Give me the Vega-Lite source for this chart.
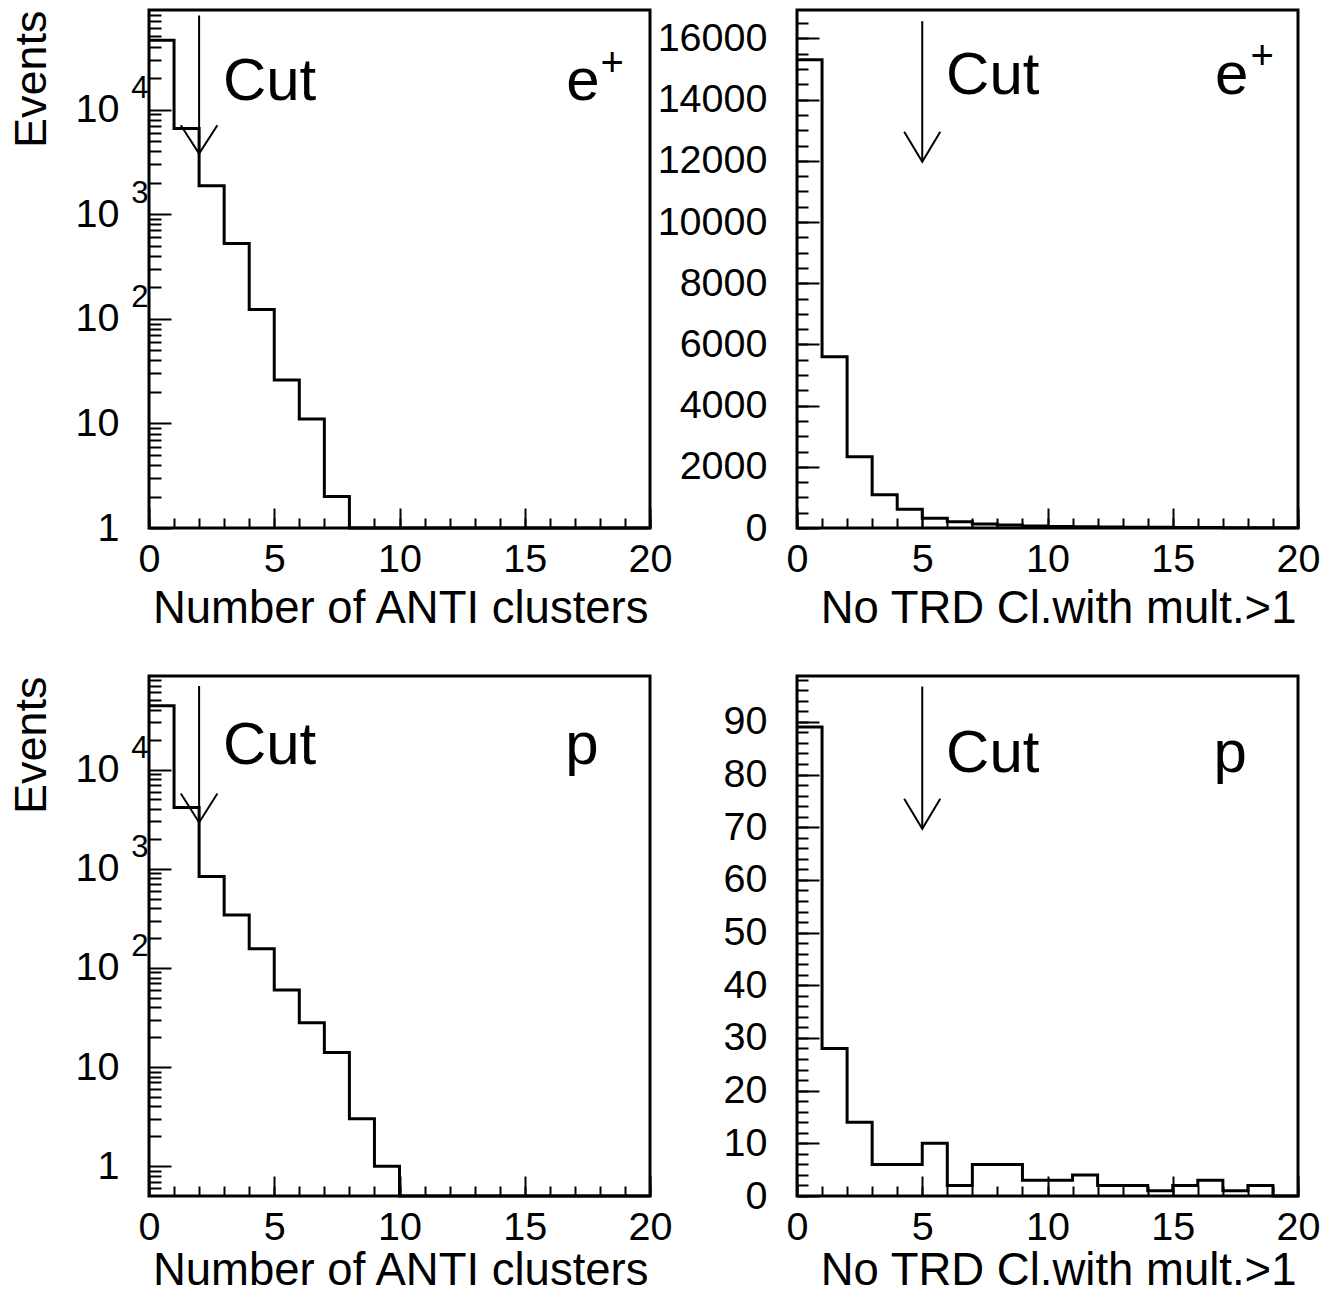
{
  "$schema": "https://vega.github.io/schema/vega-lite/v6.json",
  "background": "white",
  "autosize": {"type": "pad"},
  "padding": {"left": 7, "top": 8, "right": 10, "bottom": 4},
  "datasets": {
    "tl": [
      {"edge": 0, "count": 46000}, {"edge": 1, "count": 6600}, {"edge": 2, "count": 1870}, {"edge": 3, "count": 525},
      {"edge": 4, "count": 123}, {"edge": 5, "count": 26}, {"edge": 6, "count": 11}, {"edge": 7, "count": 2},
      {"edge": 8, "count": 0}, {"edge": 9, "count": 0}, {"edge": 10, "count": 0}, {"edge": 11, "count": 0},
      {"edge": 12, "count": 0}, {"edge": 13, "count": 0}, {"edge": 14, "count": 0}, {"edge": 15, "count": 0},
      {"edge": 16, "count": 0}, {"edge": 17, "count": 0}, {"edge": 18, "count": 0}, {"edge": 19, "count": 0},
      {"edge": 20, "count": 0}
    ],
    "tr": [
      {"edge": 0, "count": 15300}, {"edge": 1, "count": 5600}, {"edge": 2, "count": 2330}, {"edge": 3, "count": 1085},
      {"edge": 4, "count": 610}, {"edge": 5, "count": 315}, {"edge": 6, "count": 205}, {"edge": 7, "count": 128},
      {"edge": 8, "count": 95}, {"edge": 9, "count": 65}, {"edge": 10, "count": 50}, {"edge": 11, "count": 40},
      {"edge": 12, "count": 32}, {"edge": 13, "count": 26}, {"edge": 14, "count": 21}, {"edge": 15, "count": 17},
      {"edge": 16, "count": 14}, {"edge": 17, "count": 11}, {"edge": 18, "count": 9}, {"edge": 19, "count": 7},
      {"edge": 20, "count": 7}
    ],
    "bl": [
      {"edge": 0, "count": 44100}, {"edge": 1, "count": 4150}, {"edge": 2, "count": 836}, {"edge": 3, "count": 341},
      {"edge": 4, "count": 156}, {"edge": 5, "count": 60}, {"edge": 6, "count": 28}, {"edge": 7, "count": 14},
      {"edge": 8, "count": 3}, {"edge": 9, "count": 1}, {"edge": 10, "count": 0}, {"edge": 11, "count": 0},
      {"edge": 12, "count": 0}, {"edge": 13, "count": 0}, {"edge": 14, "count": 0}, {"edge": 15, "count": 0},
      {"edge": 16, "count": 0}, {"edge": 17, "count": 0}, {"edge": 18, "count": 0}, {"edge": 19, "count": 0},
      {"edge": 20, "count": 0}
    ],
    "br": [
      {"edge": 0, "count": 89}, {"edge": 1, "count": 28}, {"edge": 2, "count": 14}, {"edge": 3, "count": 6},
      {"edge": 4, "count": 6}, {"edge": 5, "count": 10}, {"edge": 6, "count": 2}, {"edge": 7, "count": 6},
      {"edge": 8, "count": 6}, {"edge": 9, "count": 3}, {"edge": 10, "count": 3}, {"edge": 11, "count": 4},
      {"edge": 12, "count": 2}, {"edge": 13, "count": 2}, {"edge": 14, "count": 1}, {"edge": 15, "count": 2},
      {"edge": 16, "count": 3}, {"edge": 17, "count": 1}, {"edge": 18, "count": 2}, {"edge": 19, "count": 0},
      {"edge": 20, "count": 0}
    ]
  },
  "columns": 2,
  "spacing": {"row": 148, "column": 147},
  "bounds": "flush",
  "concat": [
    {
      "width": 501, "height": 518,
      "layer": [
        {
          "data": {"name": "tl"},
          "mark": {"type": "line", "interpolate": "step-after", "color": "black", "strokeWidth": 3, "invalid": "show"},
          "encoding": {
            "x": {"field": "edge", "type": "quantitative", "scale": {"domain": [0, 20], "nice": false, "zero": false},
              "axis": {"orient": "bottom", "values": [0, 5, 10, 15, 20], "format": "d", "tickSize": -20, "tickWidth": 2, "labelFontSize": 39.5, "labelPadding": 32,
                "title": "Number of ANTI clusters", "titleFontSize": 45.5, "titleX": 499, "titleY": 94, "titleAlign": "right", "titleBaseline": "alphabetic", "titleAnchor": "end"}},
            "y": {"field": "count", "type": "quantitative", "scale": {"type": "log", "domain": [1, 89600], "clamp": true, "nice": false},
              "axis": {"orient": "left", "values": [1, 10, 100, 1000, 10000], "tickSize": -22, "tickWidth": 2, "labelFontSize": 39.5, "labelPadding": 52,
                "labelExpr": "datum.value >= 100 ? '10' : format(datum.value, 'd')",
                "title": "Events", "titleFontSize": 45, "titleAngle": 270, "titleX": -104, "titleY": 0, "titleAlign": "right", "titleBaseline": "alphabetic", "titleAnchor": "end"}}
          }
        },
        {
          "data": {"values": [{"x": 2, "top": 79400, "tip": 3800}]},
          "mark": {"type": "rule", "color": "black", "strokeWidth": 2},
          "encoding": {
            "x": {"field": "x", "type": "quantitative", "scale": {"domain": [0, 20], "nice": false, "zero": false},
              "axis": {"orient": "bottom", "values": [0,1,2,3,4,5,6,7,8,9,10,11,12,13,14,15,16,17,18,19,20], "tickSize": -10, "tickWidth": 2, "labels": false, "title": null}},
            "y": {"field": "top", "type": "quantitative", "scale": {"type": "log", "domain": [1, 89600], "clamp": true, "nice": false},
              "axis": {"orient": "left", "values": [2,3,4,5,6,7,8,9,20,30,40,50,60,70,80,90,200,300,400,500,600,700,800,900,2000,3000,4000,5000,6000,7000,8000,9000,20000,30000,40000,50000,60000,70000,80000], "tickSize": -12, "tickWidth": 2, "labels": false, "title": null}},
            "y2": {"field": "tip"}
          }
        },
        {
          "data": {"values": [{"x": 1.27, "y": 7100, "o": 0}, {"x": 2, "y": 3800, "o": 1}, {"x": 2.73, "y": 7100, "o": 2}]},
          "mark": {"type": "line", "color": "black", "strokeWidth": 2},
          "encoding": {
            "x": {"field": "x", "type": "quantitative", "scale": {"domain": [0, 20], "nice": false, "zero": false}, "axis": null},
            "y": {"field": "y", "type": "quantitative", "scale": {"type": "log", "domain": [1, 89600], "clamp": true, "nice": false},
              "axis": {"orient": "left", "values": [100, 1000, 10000], "ticks": false, "labelFontSize": 31, "labelPadding": 1, "labelOffset": -21, "labelAlign": "right",
                "labelExpr": "datum.value == 100 ? '2' : datum.value == 1000 ? '3' : '4'", "title": null}},
            "order": {"field": "o", "type": "quantitative"}
          }
        },
        {
          "data": {"values": [{"t": "Cut", "x": 2.95, "y": 12300}, {"t": "e", "x": 16.66, "y": 12300}]},
          "mark": {"type": "text", "fontSize": 60, "align": "left", "baseline": "alphabetic", "color": "black"},
          "encoding": {
            "x": {"field": "x", "type": "quantitative", "scale": {"domain": [0, 20], "nice": false, "zero": false}, "axis": null},
            "y": {"field": "y", "type": "quantitative", "scale": {"type": "log", "domain": [1, 89600], "clamp": true, "nice": false}, "axis": null},
            "text": {"field": "t"}
          }
        },
        {
          "data": {"values": [{"t": "+", "x": 18.02, "y": 20800}]},
          "mark": {"type": "text", "fontSize": 40, "align": "left", "baseline": "alphabetic", "color": "black"},
          "encoding": {
            "x": {"field": "x", "type": "quantitative", "scale": {"domain": [0, 20], "nice": false, "zero": false}, "axis": null},
            "y": {"field": "y", "type": "quantitative", "scale": {"type": "log", "domain": [1, 89600], "clamp": true, "nice": false}, "axis": null},
            "text": {"field": "t"}
          }
        }
      ],
      "resolve": {"axis": {"x": "independent", "y": "independent"}}
    },
    {
      "width": 501, "height": 518,
      "layer": [
        {
          "data": {"name": "tr"},
          "mark": {"type": "line", "interpolate": "step-after", "color": "black", "strokeWidth": 3},
          "encoding": {
            "x": {"field": "edge", "type": "quantitative", "scale": {"domain": [0, 20], "nice": false, "zero": false},
              "axis": {"orient": "bottom", "values": [0, 5, 10, 15, 20], "format": "d", "tickSize": -20, "tickWidth": 2, "labelFontSize": 39.5, "labelPadding": 32,
                "title": "No TRD Cl.with mult.>1", "titleFontSize": 45.5, "titleX": 499, "titleY": 94, "titleAlign": "right", "titleBaseline": "alphabetic", "titleAnchor": "end"}},
            "y": {"field": "count", "type": "quantitative", "scale": {"domain": [0, 16930], "nice": false, "zero": false},
              "axis": {"orient": "left", "values": [0, 2000, 4000, 6000, 8000, 10000, 12000, 14000, 16000], "format": "d", "tickSize": -22, "tickWidth": 2, "labelFontSize": 39.5, "labelPadding": 52, "title": null}}
          }
        },
        {
          "data": {"values": [{"x": 5, "top": 16565, "tip": 11967}]},
          "mark": {"type": "rule", "color": "black", "strokeWidth": 2},
          "encoding": {
            "x": {"field": "x", "type": "quantitative", "scale": {"domain": [0, 20], "nice": false, "zero": false},
              "axis": {"orient": "bottom", "values": [0,1,2,3,4,5,6,7,8,9,10,11,12,13,14,15,16,17,18,19,20], "tickSize": -10, "tickWidth": 2, "labels": false, "title": null}},
            "y": {"field": "top", "type": "quantitative", "scale": {"domain": [0, 16930], "nice": false, "zero": false},
              "axis": {"orient": "left", "values": [0,500,1000,1500,2000,2500,3000,3500,4000,4500,5000,5500,6000,6500,7000,7500,8000,8500,9000,9500,10000,10500,11000,11500,12000,12500,13000,13500,14000,14500,15000,15500,16000,16500], "tickSize": -11, "tickWidth": 2, "labels": false, "title": null}},
            "y2": {"field": "tip"}
          }
        },
        {
          "data": {"values": [{"x": 4.28, "y": 12948, "o": 0}, {"x": 5, "y": 11967, "o": 1}, {"x": 5.72, "y": 12948, "o": 2}]},
          "mark": {"type": "line", "color": "black", "strokeWidth": 2},
          "encoding": {
            "x": {"field": "x", "type": "quantitative", "scale": {"domain": [0, 20], "nice": false, "zero": false}, "axis": null},
            "y": {"field": "y", "type": "quantitative", "scale": {"domain": [0, 16930], "nice": false, "zero": false}, "axis": null},
            "order": {"field": "o", "type": "quantitative"}
          }
        },
        {
          "data": {"values": [{"t": "Cut", "x": 5.95, "y": 14180}, {"t": "e", "x": 16.69, "y": 14180}]},
          "mark": {"type": "text", "fontSize": 60, "align": "left", "baseline": "alphabetic", "color": "black"},
          "encoding": {
            "x": {"field": "x", "type": "quantitative", "scale": {"domain": [0, 20], "nice": false, "zero": false}, "axis": null},
            "y": {"field": "y", "type": "quantitative", "scale": {"domain": [0, 16930], "nice": false, "zero": false}, "axis": null},
            "text": {"field": "t"}
          }
        },
        {
          "data": {"values": [{"t": "+", "x": 18.1, "y": 15000}]},
          "mark": {"type": "text", "fontSize": 40, "align": "left", "baseline": "alphabetic", "color": "black"},
          "encoding": {
            "x": {"field": "x", "type": "quantitative", "scale": {"domain": [0, 20], "nice": false, "zero": false}, "axis": null},
            "y": {"field": "y", "type": "quantitative", "scale": {"domain": [0, 16930], "nice": false, "zero": false}, "axis": null},
            "text": {"field": "t"}
          }
        }
      ],
      "resolve": {"axis": {"x": "independent", "y": "independent"}}
    },
    {
      "width": 501, "height": 520,
      "layer": [
        {
          "data": {"name": "bl"},
          "mark": {"type": "line", "interpolate": "step-after", "color": "black", "strokeWidth": 3, "invalid": "show"},
          "encoding": {
            "x": {"field": "edge", "type": "quantitative", "scale": {"domain": [0, 20], "nice": false, "zero": false},
              "axis": {"orient": "bottom", "values": [0, 5, 10, 15, 20], "format": "d", "tickSize": -20, "tickWidth": 2, "labelFontSize": 39.5, "labelPadding": 32,
                "title": "Number of ANTI clusters", "titleFontSize": 45.5, "titleX": 499, "titleY": 88, "titleAlign": "right", "titleBaseline": "alphabetic", "titleAnchor": "end"}},
            "y": {"field": "count", "type": "quantitative", "scale": {"type": "log", "domain": [0.5, 88000], "clamp": true, "nice": false},
              "axis": {"orient": "left", "values": [1, 10, 100, 1000, 10000], "tickSize": -22, "tickWidth": 2, "labelFontSize": 39.5, "labelPadding": 52,
                "labelExpr": "datum.value >= 100 ? '10' : format(datum.value, 'd')",
                "title": "Events", "titleFontSize": 45, "titleAngle": 270, "titleX": -104, "titleY": 0, "titleAlign": "right", "titleBaseline": "alphabetic", "titleAnchor": "end"}}
          }
        },
        {
          "data": {"values": [{"x": 2, "top": 69800, "tip": 2930}]},
          "mark": {"type": "rule", "color": "black", "strokeWidth": 2},
          "encoding": {
            "x": {"field": "x", "type": "quantitative", "scale": {"domain": [0, 20], "nice": false, "zero": false},
              "axis": {"orient": "bottom", "values": [0,1,2,3,4,5,6,7,8,9,10,11,12,13,14,15,16,17,18,19,20], "tickSize": -10, "tickWidth": 2, "labels": false, "title": null}},
            "y": {"field": "top", "type": "quantitative", "scale": {"type": "log", "domain": [0.5, 88000], "clamp": true, "nice": false},
              "axis": {"orient": "left", "values": [0.6,0.7,0.8,0.9,2,3,4,5,6,7,8,9,20,30,40,50,60,70,80,90,200,300,400,500,600,700,800,900,2000,3000,4000,5000,6000,7000,8000,9000,20000,30000,40000,50000,60000,70000,80000], "tickSize": -12, "tickWidth": 2, "labels": false, "title": null}},
            "y2": {"field": "tip"}
          }
        },
        {
          "data": {"values": [{"x": 1.27, "y": 5750, "o": 0}, {"x": 2, "y": 2930, "o": 1}, {"x": 2.73, "y": 5750, "o": 2}]},
          "mark": {"type": "line", "color": "black", "strokeWidth": 2},
          "encoding": {
            "x": {"field": "x", "type": "quantitative", "scale": {"domain": [0, 20], "nice": false, "zero": false}, "axis": null},
            "y": {"field": "y", "type": "quantitative", "scale": {"type": "log", "domain": [0.5, 88000], "clamp": true, "nice": false},
              "axis": {"orient": "left", "values": [100, 1000, 10000], "ticks": false, "labelFontSize": 31, "labelPadding": 1, "labelOffset": -21, "labelAlign": "right",
                "labelExpr": "datum.value == 100 ? '2' : datum.value == 1000 ? '3' : '4'", "title": null}},
            "order": {"field": "o", "type": "quantitative"}
          }
        },
        {
          "data": {"values": [{"t": "Cut", "x": 2.95, "y": 11480}, {"t": "p", "x": 16.62, "y": 11480}]},
          "mark": {"type": "text", "fontSize": 60, "align": "left", "baseline": "alphabetic", "color": "black"},
          "encoding": {
            "x": {"field": "x", "type": "quantitative", "scale": {"domain": [0, 20], "nice": false, "zero": false}, "axis": null},
            "y": {"field": "y", "type": "quantitative", "scale": {"type": "log", "domain": [0.5, 88000], "clamp": true, "nice": false}, "axis": null},
            "text": {"field": "t"}
          }
        }
      ],
      "resolve": {"axis": {"x": "independent", "y": "independent"}}
    },
    {
      "width": 501, "height": 520,
      "layer": [
        {
          "data": {"name": "br"},
          "mark": {"type": "line", "interpolate": "step-after", "color": "black", "strokeWidth": 3},
          "encoding": {
            "x": {"field": "edge", "type": "quantitative", "scale": {"domain": [0, 20], "nice": false, "zero": false},
              "axis": {"orient": "bottom", "values": [0, 5, 10, 15, 20], "format": "d", "tickSize": -20, "tickWidth": 2, "labelFontSize": 39.5, "labelPadding": 32,
                "title": "No TRD Cl.with mult.>1", "titleFontSize": 45.5, "titleX": 499, "titleY": 88, "titleAlign": "right", "titleBaseline": "alphabetic", "titleAnchor": "end"}},
            "y": {"field": "count", "type": "quantitative", "scale": {"domain": [0, 98.7], "nice": false, "zero": false},
              "axis": {"orient": "left", "values": [0, 10, 20, 30, 40, 50, 60, 70, 80, 90], "format": "d", "tickSize": -22, "tickWidth": 2, "labelFontSize": 39.5, "labelPadding": 52, "title": null}}
          }
        },
        {
          "data": {"values": [{"x": 5, "top": 96.7, "tip": 69.7}]},
          "mark": {"type": "rule", "color": "black", "strokeWidth": 2},
          "encoding": {
            "x": {"field": "x", "type": "quantitative", "scale": {"domain": [0, 20], "nice": false, "zero": false},
              "axis": {"orient": "bottom", "values": [0,1,2,3,4,5,6,7,8,9,10,11,12,13,14,15,16,17,18,19,20], "tickSize": -10, "tickWidth": 2, "labels": false, "title": null}},
            "y": {"field": "top", "type": "quantitative", "scale": {"domain": [0, 98.7], "nice": false, "zero": false},
              "axis": {"orient": "left", "values": [0,2,4,6,8,10,12,14,16,18,20,22,24,26,28,30,32,34,36,38,40,42,44,46,48,50,52,54,56,58,60,62,64,66,68,70,72,74,76,78,80,82,84,86,88,90,92,94,96,98], "tickSize": -11, "tickWidth": 2, "labels": false, "title": null}},
            "y2": {"field": "tip"}
          }
        },
        {
          "data": {"values": [{"x": 4.28, "y": 75.4, "o": 0}, {"x": 5, "y": 69.7, "o": 1}, {"x": 5.72, "y": 75.4, "o": 2}]},
          "mark": {"type": "line", "color": "black", "strokeWidth": 2},
          "encoding": {
            "x": {"field": "x", "type": "quantitative", "scale": {"domain": [0, 20], "nice": false, "zero": false}, "axis": null},
            "y": {"field": "y", "type": "quantitative", "scale": {"domain": [0, 98.7], "nice": false, "zero": false}, "axis": null},
            "order": {"field": "o", "type": "quantitative"}
          }
        },
        {
          "data": {"values": [{"t": "Cut", "x": 5.95, "y": 80.5}, {"t": "p", "x": 16.63, "y": 80.5}]},
          "mark": {"type": "text", "fontSize": 60, "align": "left", "baseline": "alphabetic", "color": "black"},
          "encoding": {
            "x": {"field": "x", "type": "quantitative", "scale": {"domain": [0, 20], "nice": false, "zero": false}, "axis": null},
            "y": {"field": "y", "type": "quantitative", "scale": {"domain": [0, 98.7], "nice": false, "zero": false}, "axis": null},
            "text": {"field": "t"}
          }
        }
      ],
      "resolve": {"axis": {"x": "independent", "y": "independent"}}
    }
  ],
  "config": {
    "font": "Liberation Sans",
    "view": {"stroke": "black", "strokeWidth": 3},
    "axis": {"domain": false, "grid": false, "labelColor": "black", "tickColor": "black", "titleColor": "black", "titleFontWeight": "normal", "labelFlush": false, "labelOverlap": false, "labelFont": "Liberation Sans", "titleFont": "Liberation Sans"}
  }
}
